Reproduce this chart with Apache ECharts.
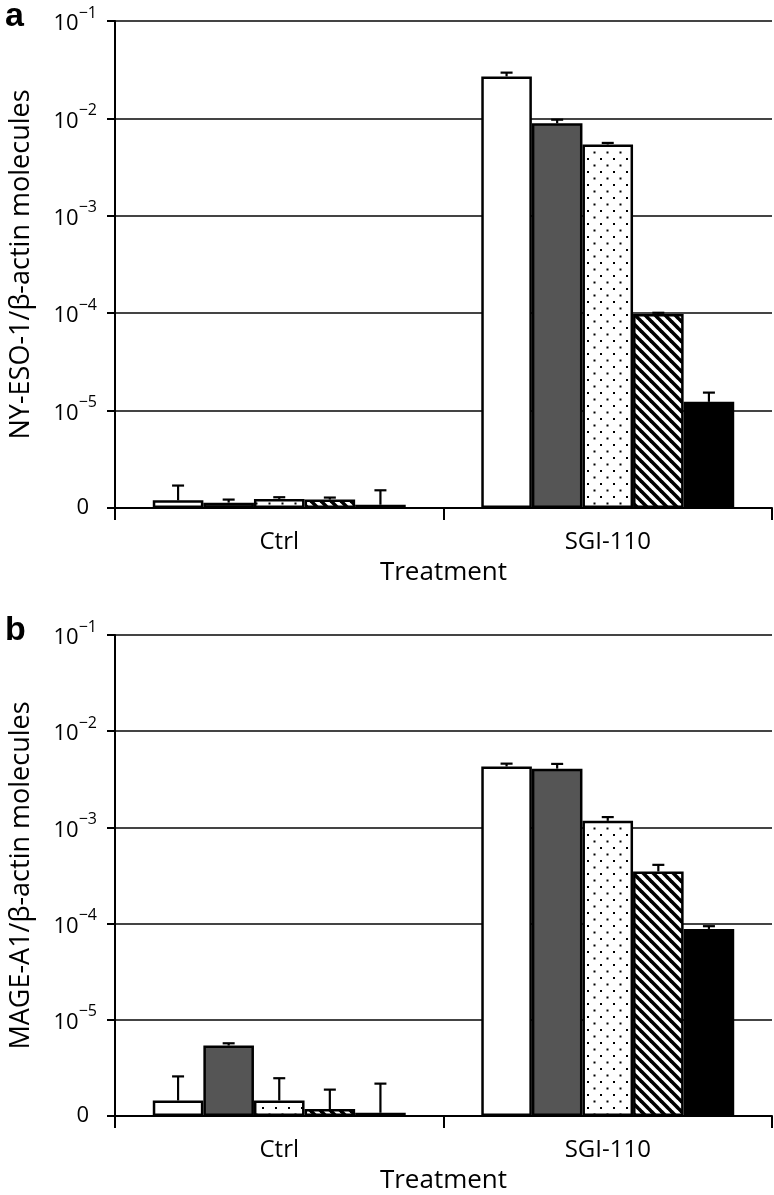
<!DOCTYPE html>
<html>
<head>
<meta charset="utf-8">
<script src="https://cdn.jsdelivr.net/npm/echarts@6/dist/echarts.min.js"></script>
<style>
html,body{margin:0;padding:0;background:#fff;}
#chart{width:774px;height:1195px;}
</style>
</head>
<body>
<div id="chart"></div>
<script>
// ---- data ----
const categories = ['Ctrl', 'SGI-110'];
const groupNames = ['g1', 'g2', 'g3', 'g4', 'g5'];
const yTicks = [1e-6, 1e-5, 1e-4, 1e-3, 1e-2, 1e-1];

// Panel a: NY-ESO-1 / beta-actin
const nyeso_g1 = [1.2e-6, 0.027];
const nyeso_g2 = [1.135e-6, 0.0089];
const nyeso_g3 = [1.24e-6, 0.0054];
const nyeso_g4 = [1.22e-6, 9.8e-5];
const nyeso_g5 = [1.08e-6, 1.23e-5];
const nyeso_err_g1 = [0.5e-6, 0.0025];
const nyeso_err_g2 = [0.085e-6, 0.0008];
const nyeso_err_g3 = [0.05e-6, 0.0002];
const nyeso_err_g4 = [0.06e-6, 0.000003];
const nyeso_err_g5 = [0.44e-6, 0.3e-5];

// Panel b: MAGE-A1 / beta-actin
const mage_g1 = [1.45e-6, 4.3e-3];
const mage_g2 = [5.4e-6, 4.08e-3];
const mage_g3 = [1.45e-6, 1.17e-3];
const mage_g4 = [1.18e-6, 3.48e-4];
const mage_g5 = [1.08e-6, 8.8e-5];
const mage_err_g1 = [1.13e-6, 0.3e-3];
const mage_err_g2 = [0.3e-6, 0.49e-3];
const mage_err_g3 = [1.02e-6, 0.11e-3];
const mage_err_g4 = [0.7e-6, 0.6e-4];
const mage_err_g5 = [1.09e-6, 0.6e-5];

// ---- styling helpers ----
const FONT = 'Open Sans';
const CAT_GAP = 0.23;
const NBARS = 5;

function dotPattern() {
  const c = document.createElement('canvas');
  c.width = 13; c.height = 13;
  const g = c.getContext('2d');
  g.fillStyle = '#fff'; g.fillRect(0, 0, 13, 13);
  g.fillStyle = '#000';
  g.fillRect(2, 2, 2, 2);
  g.fillRect(8.5, 8.5, 2, 2);
  return c;
}
function hatchPattern() {
  const s = 10;
  const c = document.createElement('canvas');
  c.width = s; c.height = s;
  const g = c.getContext('2d');
  g.fillStyle = '#fff'; g.fillRect(0, 0, s, s);
  g.strokeStyle = '#000'; g.lineWidth = 3.6;
  for (let k = -1; k <= 1; k++) {
    g.beginPath();
    g.moveTo(k * s - 1, -1);
    g.lineTo(k * s + s + 1, s + 1);
    g.stroke();
  }
  return c;
}
const fills = [
  '#ffffff',
  '#555555',
  { image: dotPattern(), repeat: 'repeat' },
  { image: hatchPattern(), repeat: 'repeat' },
  '#000000'
];

function yLabel(v) {
  const e = Math.round(Math.log10(v));
  if (e <= -6) return '{z|0}';
  return '{b|10}{s|\u2212' + (-e) + '}';
}

function makeX(gi) {
  return {
    type: 'category', gridIndex: gi, data: categories,
    axisLine: { show: true, lineStyle: { color: '#000', width: 2 } },
    axisTick: { show: true, length: 12, alignWithLabel: false, lineStyle: { color: '#000', width: 2 } },
    axisLabel: { fontFamily: FONT, fontSize: 24, color: '#000', margin: 22 },
    name: 'Treatment', nameLocation: 'middle', nameGap: 52,
    nameTextStyle: { fontFamily: FONT, fontSize: 26, color: '#000' },
    splitLine: { show: false }
  };
}
function makeY(gi, title) {
  return {
    type: 'log', logBase: 10, gridIndex: gi, min: 1e-6, max: 0.1, startValue: 1e-6,
    axisLine: { show: true, lineStyle: { color: '#000', width: 2 } },
    axisTick: { show: true, length: 8, inside: false, lineStyle: { color: '#000', width: 2 } },
    splitLine: { show: true, lineStyle: { color: '#444', width: 2 } },
    axisLabel: {
      margin: 18, color: '#000', formatter: yLabel,
      rich: {
        b: { fontFamily: FONT, fontSize: 22, lineHeight: 28, verticalAlign: 'bottom' },
        s: { fontFamily: FONT, fontSize: 16, lineHeight: 14, verticalAlign: 'bottom', padding: [0, 0, 14, 0] },
        z: { fontFamily: FONT, fontSize: 22, lineHeight: 28, padding: [0, 8, 0, 0] }
      }
    },
    name: title, nameLocation: 'middle', nameGap: 80,
    nameTextStyle: { fontFamily: FONT, fontSize: 27, color: '#000' }
  };
}

function barSeries(gi, vals, idx) {
  return {
    type: 'bar', xAxisIndex: gi, yAxisIndex: gi, name: groupNames[idx],
    data: vals, barGap: '0%', barCategoryGap: (CAT_GAP * 100) + '%',
    itemStyle: { color: fills[idx], borderColor: '#000', borderWidth: 2.5 },
    emphasis: { disabled: true }, z: 2
  };
}
function errSeries(gi, vals, errs, idx) {
  return {
    type: 'custom', xAxisIndex: gi, yAxisIndex: gi, z: 3,
    data: vals.map((v, c) => [c, v, errs[c]]),
    renderItem: function (params, api) {
      const c = api.value(0), v = api.value(1), e = api.value(2);
      const p0 = api.coord([c, v]);
      const p1 = api.coord([c, v + e]);
      const band = api.size([1, 0])[0];
      const bw = band * (1 - CAT_GAP) / NBARS;
      const x = p0[0] + (idx - (NBARS - 1) / 2) * bw;
      const cap = 6;
      const st = { stroke: '#000', lineWidth: 2.2, fill: null };
      return {
        type: 'group', children: [
          { type: 'line', shape: { x1: x, y1: p0[1], x2: x, y2: p1[1] }, style: st },
          { type: 'line', shape: { x1: x - cap, y1: p1[1], x2: x + cap, y2: p1[1] }, style: st }
        ]
      };
    }
  };
}

const panelA = [nyeso_g1, nyeso_g2, nyeso_g3, nyeso_g4, nyeso_g5];
const panelAErr = [nyeso_err_g1, nyeso_err_g2, nyeso_err_g3, nyeso_err_g4, nyeso_err_g5];
const panelB = [mage_g1, mage_g2, mage_g3, mage_g4, mage_g5];
const panelBErr = [mage_err_g1, mage_err_g2, mage_err_g3, mage_err_g4, mage_err_g5];

const series = [];
panelA.forEach((v, i) => series.push(barSeries(0, v, i)));
panelB.forEach((v, i) => series.push(barSeries(1, v, i)));
panelA.forEach((v, i) => series.push(errSeries(0, v, panelAErr[i], i)));
panelB.forEach((v, i) => series.push(errSeries(1, v, panelBErr[i], i)));

const chart = echarts.init(document.getElementById('chart'), null, { renderer: 'canvas' });
chart.setOption({
  backgroundColor: '#fff',
  animation: false,
  title: [
    { text: 'a', left: 0, top: -5, textStyle: { fontFamily: 'Liberation Sans', fontWeight: 'bold', fontSize: 34, color: '#000' } },
    { text: 'b', left: 0, top: 609, textStyle: { fontFamily: 'Liberation Sans', fontWeight: 'bold', fontSize: 34, color: '#000' } }
  ],
  grid: [
    { left: 111, right: 2, top: 21, height: 487 },
    { left: 111, right: 2, top: 635, height: 485 }
  ],
  xAxis: [makeX(0), makeX(1)],
  yAxis: [makeY(0, 'NY-ESO-1/\u03b2-actin molecules'), makeY(1, 'MAGE-A1/\u03b2-actin molecules')],
  series: series
});
</script>
</body>
</html>
